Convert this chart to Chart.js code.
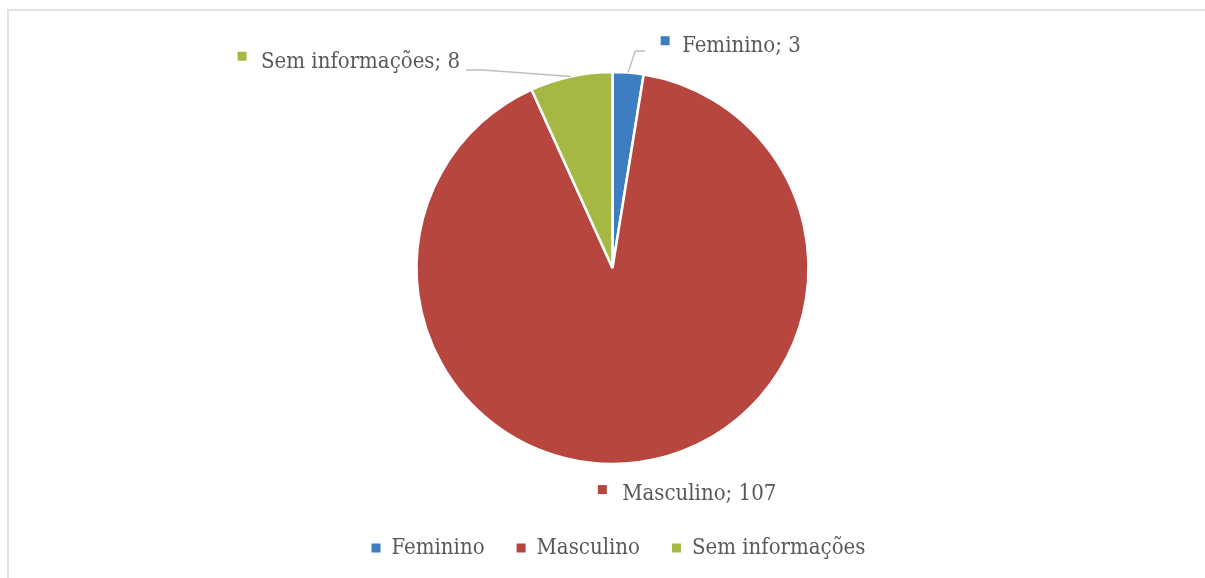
<!DOCTYPE html>
<html><head><meta charset="utf-8">
<script src="https://cdn.jsdelivr.net/npm/chart.js@4"></script>
<style>
html,body{margin:0;padding:0;background:#fff;overflow:hidden;width:1205px;height:578px;}
#frame{position:absolute;left:7px;top:9px;width:1400px;height:800px;border:2px solid #e2e2e2;box-sizing:border-box;}
#wrap{position:absolute;left:0;top:0;width:1205px;height:578px;}
</style></head><body>
<div id="frame"></div>
<div id="wrap"><canvas id="c"></canvas></div>
<script>
// ---- data ----
const categories = ['Feminino', 'Masculino', 'Sem informações'];
const values = [3, 107, 8];

// ---- styles ----
const colors = ['#3D7EC3', '#B7463F', '#A6B843'];
const FONT = '"DejaVu Serif Condensed", "DejaVu Serif"';
const FONT_SIZE = 22;
const TEXT_COLOR = '#595959';
// label placement relative to the slice's outer mid-point
const labelLayout = [
  {align: 'left',  dx: 54,   baseDy: -20.3, gap: 21.5, markDy: -31.9, leader: [[7, -21.6], [17, -21.6]]},
  {align: 'left',  dx: -16.3, baseDy: 37.3, gap: 24.4, markDy: 27.3,  leader: null},
  {align: 'right', dx: -111, baseDy: -8.1,  gap: 23.4, markDy: -20.2, leader: [[-88, -6.4], [-105, -6.4]]}
];

const dataLabels = {
  id: 'dataLabels',
  afterLayout(chart) {
    // nudge legend slightly right, as in the reference
    const lg = chart.legend;
    if (lg) { lg.left += 6; lg.right += 6; }
  },
  afterDatasetsDraw(chart) {
    const ctx = chart.ctx;
    const meta = chart.getDatasetMeta(0);
    ctx.save();
    ctx.font = FONT_SIZE + 'px ' + FONT;
    ctx.textBaseline = 'alphabetic';
    meta.data.forEach((arc, i) => {
      const p = arc.getProps(['x', 'y', 'startAngle', 'endAngle', 'outerRadius'], true);
      const mid = (p.startAngle + p.endAngle) / 2;
      const ax = p.x + Math.cos(mid) * p.outerRadius;
      const ay = p.y + Math.sin(mid) * p.outerRadius;
      const L = labelLayout[i];
      if (L.leader) {
        ctx.beginPath();
        ctx.strokeStyle = '#BFBFBF';
        ctx.lineWidth = 1.5;
        ctx.moveTo(ax, ay);
        L.leader.forEach(pt => ctx.lineTo(ax + pt[0], ay + pt[1]));
        ctx.stroke();
      }
      const text = categories[i] + '; ' + values[i];
      const tw = ctx.measureText(text).width;
      const textX = L.align === 'left' ? ax + L.dx : ax + L.dx - tw;
      const markerX = textX - L.gap;
      ctx.fillStyle = colors[i];
      ctx.fillRect(markerX, ay + L.markDy - 4.5, 9, 9);
      ctx.fillStyle = TEXT_COLOR;
      ctx.textAlign = 'left';
      ctx.fillText(text, textX, ay + L.baseDy);
    });
    ctx.restore();
  }
};

new Chart(document.getElementById('c'), {
  type: 'pie',
  data: {
    labels: categories,
    datasets: [{
      data: values,
      backgroundColor: colors,
      borderColor: '#FFFFFF',
      borderWidth: 2.5,
      hoverOffset: 0,
      radius: 196
    }]
  },
  options: {
    responsive: true,
    maintainAspectRatio: false,
    animation: false,
    layout: {padding: {top: 31, bottom: 9, left: 20, right: 0}},
    plugins: {
      tooltip: {enabled: false},
      legend: {
        position: 'bottom',
        labels: {
          boxWidth: 9,
          boxHeight: 9,
          padding: 32,
          color: TEXT_COLOR,
          font: {family: FONT, size: FONT_SIZE},
          generateLabels: () => categories.map((c, i) => ({
            text: c, fillStyle: colors[i], strokeStyle: colors[i],
            lineWidth: 0, fontColor: TEXT_COLOR, hidden: false, index: i
          }))
        }
      }
    }
  },
  plugins: [dataLabels]
});
</script>
</body></html>
